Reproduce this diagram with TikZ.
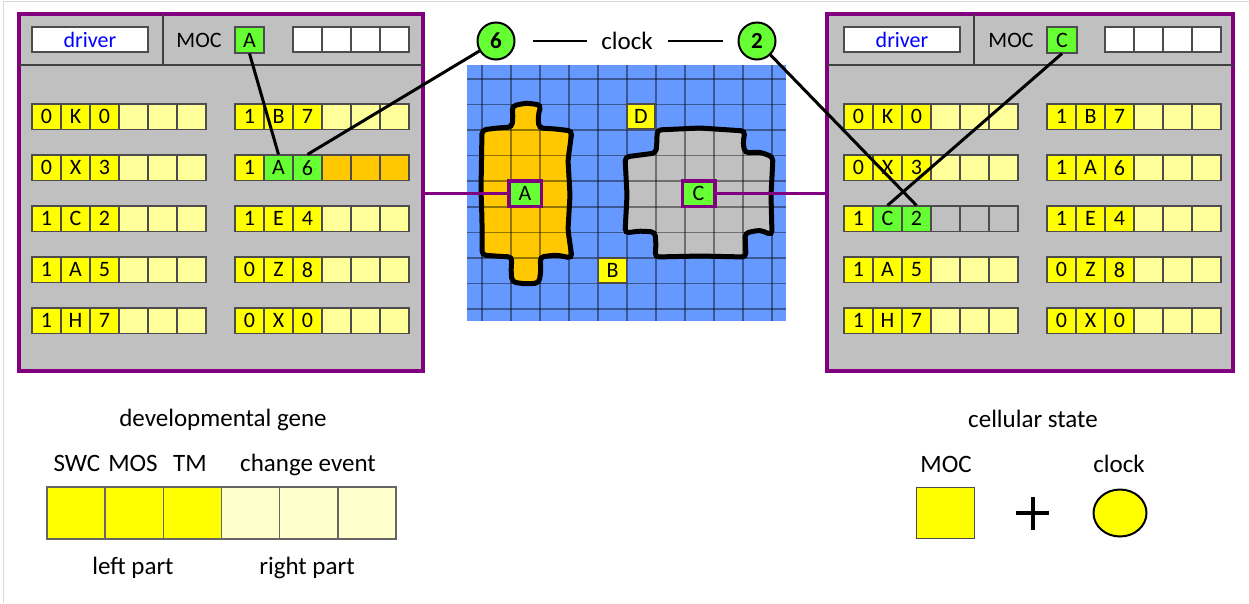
\documentclass[tikz,border=0pt]{standalone}
\usepackage{fontspec}
\setmainfont{Carlito}
\usetikzlibrary{shapes.geometric}
\definecolor{cy}{HTML}{FFFF00}
\definecolor{cly}{HTML}{FFFF99}
\definecolor{clly}{HTML}{FFFFCC}
\definecolor{grn}{HTML}{66FF33}
\definecolor{org}{HTML}{FFC800}
\definecolor{pur}{HTML}{800080}
\definecolor{gry}{HTML}{C0C0C0}
\definecolor{blu}{HTML}{6699FF}
\newcommand\generow[8]{%
  \node[cell,fill=cy] (#1-1) at ({#2+14.5},{#3+12.75}) {#4};
  \node[cell,fill=#7] (#1-2) at ({#2+43.5},{#3+12.75}) {#5};
  \node[cell,fill=#7] (#1-3) at ({#2+72.5},{#3+12.75}) {#6};
  \node[cell,fill=#8] (#1-4) at ({#2+101.5},{#3+12.75}) {};
  \node[cell,fill=#8] (#1-5) at ({#2+130.5},{#3+12.75}) {};
  \node[cell,fill=#8] (#1-6) at ({#2+159.5},{#3+12.75}) {};
}
\begin{document}
\begin{tikzpicture}[x=1pt,y=-1pt,
  cell/.style={draw=black!70,line width=1.1pt,minimum width=29pt,minimum height=25.5pt,inner sep=0pt,font=\fontsize{22}{22}\selectfont},
  panel/.style={draw=pur,line width=4pt,fill=gry,inner sep=0pt},
  lbl/.style={font=\fontsize{25}{30}\selectfont,inner sep=0pt},
  hdr/.style={font=\fontsize{22}{22}\selectfont,inner sep=0pt},
  wbox/.style={draw=black!70,line width=1.1pt,fill=white,minimum width=29pt,minimum height=25pt,inner sep=0pt},
  conn/.style={line width=3pt,black},
  pconn/.style={line width=3.5pt,pur},
  clockc/.style={circle,draw=black,line width=2pt,fill=grn,minimum size=37pt,inner sep=0pt,font=\bfseries\fontsize{23}{23}\selectfont},
  gl/.style={black,opacity=0.42,line width=1.5pt},
  blob/.style={line width=5pt,black,rounded corners=4pt},
  gcell/.style={cell,fill=cy,minimum width=28pt,minimum height=25pt},
  markbox/.style={draw=pur,line width=3.5pt,fill=grn,minimum width=32.5pt,minimum height=25.5pt,inner sep=0pt,font=\fontsize{22}{22}\selectfont},
  lg/.style={draw=black!60,line width=1.5pt,minimum width=58.2pt,minimum height=52pt,inner sep=0pt}
]
\useasboundingbox (0,0) rectangle (1249,603);
\fill[white] (0,0) rectangle (1249,603);
\draw[black!15,line width=1pt] (3.5,603) -- (3.5,1.5) -- (1249,1.5);

% ---------- left panel ----------
\node[panel,minimum width=404pt,minimum height=357pt] (LP) at (221,192.5) {};
\draw[black!75,line width=1.3pt] (19,65) -- (423,65) (163,14) -- (163,65);
\node[wbox,minimum width=116pt,text=blue,font=\fontsize{22}{22}\selectfont] (dL) at (90,39.5) {driver};
\node[hdr] (mocL) at (199,40) {MOC};
\node[cell,fill=grn,minimum height=26pt] (mA) at (249.5,40) {A};
\node[wbox] (wL1) at (307.5,39.5) {};
\node[wbox] (wL2) at (336.5,39.5) {};
\node[wbox] (wL3) at (365.5,39.5) {};
\node[wbox] (wL4) at (394.5,39.5) {};
\generow{LA1}{32}{104}{0}{K}{0}{cy}{cly}
\generow{LA2}{32}{155}{0}{X}{3}{cy}{cly}
\generow{LA3}{32}{206}{1}{C}{2}{cy}{cly}
\generow{LA4}{32}{257}{1}{A}{5}{cy}{cly}
\generow{LA5}{32}{308}{1}{H}{7}{cy}{cly}
\generow{LB1}{235}{104}{1}{B}{7}{cy}{cly}
\generow{LB2}{235}{155}{1}{A}{6}{grn}{org}
\generow{LB3}{235}{206}{1}{E}{4}{cy}{cly}
\generow{LB4}{235}{257}{0}{Z}{8}{cy}{cly}
\generow{LB5}{235}{308}{0}{X}{0}{cy}{cly}

% ---------- right panel ----------
\node[panel,minimum width=406pt,minimum height=357pt] (RP) at (1030,192.5) {};
\draw[black!75,line width=1.3pt] (827,65) -- (1233,65) (974,14) -- (974,65);
\node[wbox,minimum width=116pt,text=blue,font=\fontsize{22}{22}\selectfont] (dR) at (902,39.5) {driver};
\node[hdr] (mocR) at (1011,40) {MOC};
\node[cell,fill=grn,minimum height=26pt,minimum width=30pt] (mC) at (1062,40) {C};
\node[wbox] (wR1) at (1119.5,39.5) {};
\node[wbox] (wR2) at (1148.5,39.5) {};
\node[wbox] (wR3) at (1177.5,39.5) {};
\node[wbox] (wR4) at (1206.5,39.5) {};
\generow{RA1}{844}{104}{0}{K}{0}{cy}{cly}
\generow{RA2}{844}{155}{0}{X}{3}{cy}{cly}
\generow{RA3}{844}{206}{1}{C}{2}{grn}{gry}
\generow{RA4}{844}{257}{1}{A}{5}{cy}{cly}
\generow{RA5}{844}{308}{1}{H}{7}{cy}{cly}
\generow{RB1}{1047}{104}{1}{B}{7}{cy}{cly}
\generow{RB2}{1047}{155}{1}{A}{6}{cy}{cly}
\generow{RB3}{1047}{206}{1}{E}{4}{cy}{cly}
\generow{RB4}{1047}{257}{0}{Z}{8}{cy}{cly}
\generow{RB5}{1047}{308}{0}{X}{0}{cy}{cly}

% ---------- grid ----------
\fill[blu] (467,65) rectangle (786,321);
\fill[org,rounded corners=4pt] (512,106) -- (526,103) -- (541,105) -- (538,116) -- (539,128) -- (556,129) -- (572,131) -- (568,160) -- (570,195) -- (568,230) -- (572,258) -- (556,255) -- (540,257) -- (541,270) -- (539,283) -- (526,284) -- (512,282) -- (511,270) -- (512,257) -- (495,256) -- (482,255) -- (482,220) -- (481,190) -- (482,130) -- (497,128) -- (512,127) -- (513,116) -- cycle;
\fill[gry,rounded corners=4pt] (657,130) -- (700,128) -- (745,131) -- (743,143) -- (745,153) -- (760,152) -- (773,157) -- (771,195) -- (772,235) -- (760,230) -- (745,233) -- (746,257) -- (700,256) -- (655,257) -- (656,245) -- (655,232) -- (640,231) -- (625,233) -- (627,195) -- (625,157) -- (640,155) -- (656,153) -- (657,140) -- cycle;
\foreach \i in {0,...,10} \draw[gl] ({482+29*\i},65) -- ({482+29*\i},321);
\foreach \j in {0,...,9} \draw[gl] (467,{79+25.56*\j}) -- (786,{79+25.56*\j});
\draw[blob] (512,106) -- (526,103) -- (541,105) -- (538,116) -- (539,128) -- (556,129) -- (572,131) -- (568,160) -- (570,195) -- (568,230) -- (572,258) -- (556,255) -- (540,257) -- (541,270) -- (539,283) -- (526,284) -- (512,282) -- (511,270) -- (512,257) -- (495,256) -- (482,255) -- (482,220) -- (481,190) -- (482,130) -- (497,128) -- (512,127) -- (513,116) -- cycle;
\draw[blob] (657,130) -- (700,128) -- (745,131) -- (743,143) -- (745,153) -- (760,152) -- (773,157) -- (771,195) -- (772,235) -- (760,230) -- (745,233) -- (746,257) -- (700,256) -- (655,257) -- (656,245) -- (655,232) -- (640,231) -- (625,233) -- (627,195) -- (625,157) -- (640,155) -- (656,153) -- (657,140) -- cycle;
\node[gcell] (D) at (641,116.5) {D};
\node[gcell] (B) at (612.5,270.5) {B};
\node[markbox] (gA) at (525,193.5) {A};
\node[markbox] (gC) at (698.5,193.5) {C};
\draw[pconn] (gA.west) -- (gA.west -| LP.east);
\draw[pconn] (gC.east) -- (gC.east -| RP.west);

% ---------- clock ----------
\node[clockc] (c6) at (496,41) {6};
\node[clockc] (c2) at (757,41) {2};
\node[lbl] (clk) at (627,41) {clock};
\draw[line width=2.8pt] ([xshift=17.5pt]c6.east) -- ([xshift=-14.5pt]clk.west);
\draw[line width=2.8pt] ([xshift=15.5pt]clk.east) -- ([xshift=-14.5pt]c2.west);

% ---------- connectors ----------
\draw[conn] (mA.south) -- (LB2-2.north);
\draw[conn] (LB2-3.north) -- (c6);
\draw[conn] (mC.south) -- (RA3-2.north);
\draw[conn] (c2) -- (RA3-3.north);

% ---------- legend: developmental gene ----------
\node[lbl,anchor=base] (tdg) at (223,426) {developmental gene};
\node[lbl,anchor=base] (tswc) at (77,471) {SWC};
\node[lbl,anchor=base] (tmos) at (133,471) {MOS};
\node[lbl,anchor=base] (ttm) at (190,471) {TM};
\node[lbl,anchor=base] (tce) at (308,471) {change event};
\node[lg,fill=cy] (g1) at (76.1,513) {};
\node[lg,fill=cy] (g2) at (134.3,513) {};
\node[lg,fill=cy] (g3) at (192.4,513) {};
\node[lg,fill=clly] (g4) at (250.6,513) {};
\node[lg,fill=clly] (g5) at (308.8,513) {};
\node[lg,fill=clly] (g6) at (366.9,513) {};
\node[lbl,anchor=base] (tlp) at (133,574) {left part};
\node[lbl,anchor=base] (trp) at (307,574) {right part};

% ---------- legend: cellular state ----------
\node[lbl,anchor=base] (tcs) at (1033,427) {cellular state};
\node[lbl,anchor=base] (tmoc) at (946,472) {MOC};
\node[lbl,anchor=base] (tclk) at (1119,472) {clock};
\node[draw=black!70,line width=1.5pt,fill=cy,minimum width=58pt,minimum height=51pt,inner sep=0pt] (sq) at (945.5,513) {};
\draw[line width=4pt] (1016,513) -- (1049,513) (1032.5,497) -- (1032.5,530);
\node[ellipse,draw=black,line width=2pt,fill=cy,minimum width=53pt,minimum height=47pt,inner sep=0pt] (ell) at (1120,513) {};
\end{tikzpicture}
\end{document}
